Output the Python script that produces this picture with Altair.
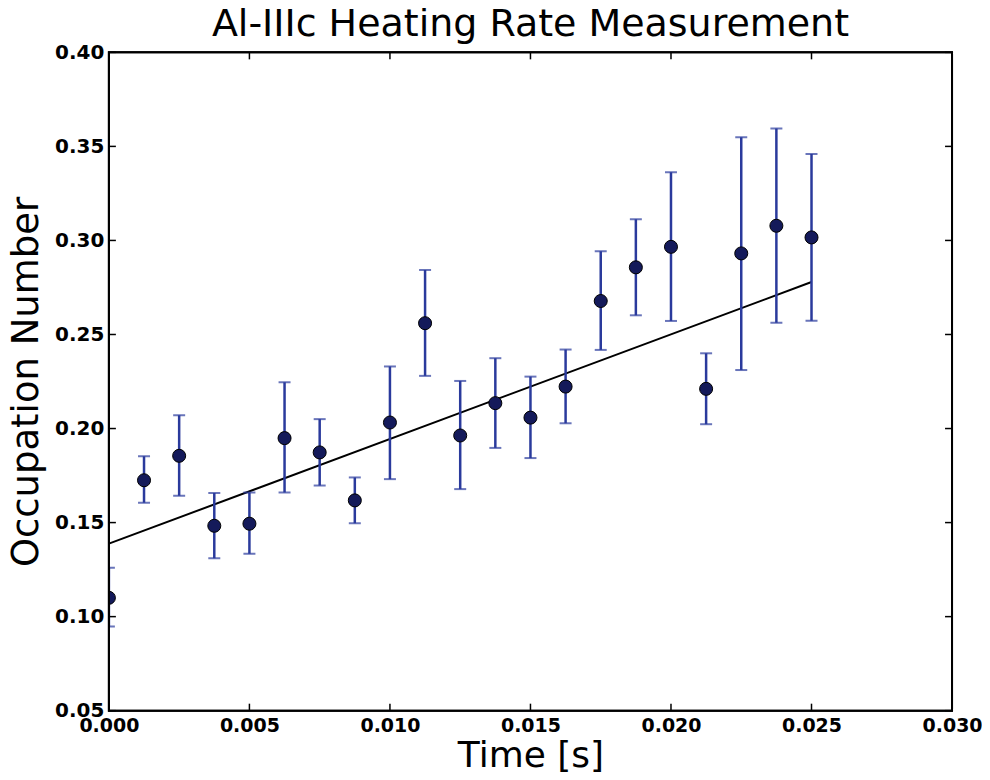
import altair as alt
import pandas as pd

# data
times = [0.0, 0.00125, 0.0025, 0.00375, 0.005, 0.00625, 0.0075, 0.00875, 0.01, 0.01125,
         0.0125, 0.01375, 0.015, 0.01625, 0.0175, 0.01875, 0.02, 0.02125, 0.0225, 0.02375, 0.025]
occupation = [0.110, 0.1725, 0.1855, 0.1483, 0.1494, 0.1949, 0.1873, 0.1618, 0.2032, 0.256,
              0.1963, 0.2135, 0.2058, 0.2223, 0.2678, 0.2857, 0.2966, 0.2211, 0.2931, 0.3078, 0.3016]
err_low = [0.0948, 0.1605, 0.1642, 0.131, 0.1334, 0.166, 0.1697, 0.1497, 0.1731, 0.228,
           0.1678, 0.1897, 0.1843, 0.2028, 0.2418, 0.2602, 0.2572, 0.2023, 0.2311, 0.2563, 0.2573]
err_high = [0.126, 0.1853, 0.2071, 0.1657, 0.166, 0.2246, 0.205, 0.174, 0.233, 0.2843,
            0.2253, 0.2374, 0.2276, 0.242, 0.2943, 0.3113, 0.3363, 0.24, 0.3549, 0.3595, 0.346]
fit_x = [0.0, 0.025]
fit_y = [0.1388, 0.2779]
x_ticks = [0.0, 0.005, 0.01, 0.015, 0.02, 0.025, 0.03]
y_ticks = [0.05, 0.10, 0.15, 0.20, 0.25, 0.30, 0.35, 0.40]

df = pd.DataFrame({"t": times, "n": occupation, "lo": err_low, "hi": err_high})
fit = pd.DataFrame({"t": fit_x, "n": fit_y})
xt = pd.DataFrame({"v": x_ticks})
yt = pd.DataFrame({"v": y_ticks})

W, H = 844, 659
FONT = "DejaVu Sans"
BAR = "#2a3a9c"
PT = "#141a5a"

xs = alt.Scale(domain=[0, 0.03], nice=False, zero=False)
ys = alt.Scale(domain=[0.05, 0.40], nice=False, zero=False)

xaxis = alt.Axis(values=x_ticks, format=".3f", title="Time [s]", ticks=False, grid=False,
                 domain=False, labelFont=FONT, labelFontSize=19, labelFontWeight="bold",
                 labelColor="black", labelPadding=6, labelFlush=False, labelOverlap=False,
                 titleFont=FONT, titleFontSize=36,
                 titleFontWeight="normal", titleColor="black", titlePadding=3)
yaxis = alt.Axis(values=y_ticks, format=".2f", title="Occupation Number", ticks=False, grid=False,
                 domain=False, labelFont=FONT, labelFontSize=20, labelFontWeight="bold",
                 labelColor="black", labelPadding=5, labelFlush=False, labelOverlap=False,
                 titleFont=FONT, titleFontSize=37,
                 titleFontWeight="normal", titleColor="black", titlePadding=9)

base = alt.Chart(df)

fitline = alt.Chart(fit).mark_line(color="black", strokeWidth=2).encode(
    x=alt.X("t:Q", scale=xs, axis=xaxis), y=alt.Y("n:Q", scale=ys, axis=yaxis))

bars = base.mark_rule(color=BAR, strokeWidth=2.5, clip=True).encode(
    x=alt.X("t:Q", scale=xs), y=alt.Y("lo:Q", scale=ys), y2="hi:Q")
cap_lo = base.mark_tick(color=BAR, orient="horizontal", size=12, thickness=2, clip=True).encode(
    x=alt.X("t:Q", scale=xs), y=alt.Y("lo:Q", scale=ys))
cap_hi = base.mark_tick(color=BAR, orient="horizontal", size=12, thickness=2, clip=True).encode(
    x=alt.X("t:Q", scale=xs), y=alt.Y("hi:Q", scale=ys))
pts = base.mark_point(filled=True, fill=PT, stroke="black", strokeWidth=1, size=170, opacity=1,
                      clip=True).encode(
    x=alt.X("t:Q", scale=xs), y=alt.Y("n:Q", scale=ys))

# inward ticks on all four sides
xt_b = alt.Chart(xt).mark_rule(color="black", strokeWidth=1.5).encode(
    x=alt.X("v:Q", scale=xs), y=alt.value(H), y2=alt.value(H - 7))
xt_t = alt.Chart(xt).mark_rule(color="black", strokeWidth=1.5).encode(
    x=alt.X("v:Q", scale=xs), y=alt.value(0), y2=alt.value(7))
yt_l = alt.Chart(yt).mark_rule(color="black", strokeWidth=1.5).encode(
    y=alt.Y("v:Q", scale=ys), x=alt.value(0), x2=alt.value(7))
yt_r = alt.Chart(yt).mark_rule(color="black", strokeWidth=1.5).encode(
    y=alt.Y("v:Q", scale=ys), x=alt.value(W), x2=alt.value(W - 7))

frame = alt.Chart(fit).mark_rect(fill=None, fillOpacity=0, stroke="black", strokeWidth=2).encode(
    x=alt.value(0), x2=alt.value(W), y=alt.value(0), y2=alt.value(H))

chart = alt.layer(fitline, bars, cap_lo, cap_hi, pts, xt_b, xt_t, yt_l, yt_r, frame).properties(
    width=W, height=H,
    title=alt.TitleParams("Al-IIIc Heating Rate Measurement", font=FONT, fontSize=38,
                          fontWeight="normal", color="black", offset=-2),
    autosize=alt.AutoSizeParams(type="none"),
    padding={"left": 101, "top": 44, "right": 30, "bottom": 66},
).configure_view(stroke=None).configure(background="white")

chart.save("out.html", embed_options={"renderer": "svg", "actions": False})
